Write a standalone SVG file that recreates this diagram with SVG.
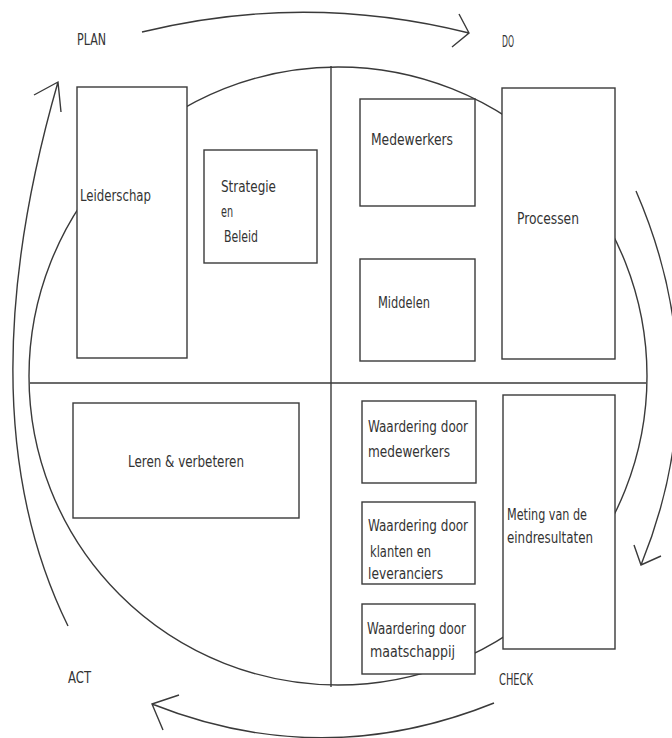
<svg xmlns="http://www.w3.org/2000/svg" width="672" height="738" viewBox="0 0 672 738">
<style>
.ln{fill:none;stroke:#3a3a3a;stroke-width:1.4}
.bx{fill:#fff;stroke:#3a3a3a;stroke-width:1.4}
text{font-family:"DejaVu Sans Condensed","Liberation Sans Narrow","Liberation Sans",sans-serif;font-size:16px;fill:#333}
</style>
<rect width="672" height="738" fill="#fff"/>
<g id="frame">
<circle class="ln" cx="338" cy="376" r="309"/>
<line class="ln" x1="331" y1="66" x2="331" y2="687"/>
<line class="ln" x1="30" y1="383" x2="646" y2="383"/>
</g>
<g id="connectors">
<path class="ln" d="M142,32 Q305,-8 469,33 M459,14 L469,33 L452,47"/>
<path class="ln" d="M68,626 Q-37,412 58,82 M34,95 L58,82 L61,112"/>
<path class="ln" d="M636,191 Q717,378 641,565 M634,545 L641,565 L661,556"/>
<path class="ln" d="M494,703 Q323,772 152,704 M179,695 L152,704 L163,730"/>
</g>
<g id="labels">
<text x="77" y="45" textLength="29" lengthAdjust="spacingAndGlyphs">PLAN</text>
<text x="502" y="47" textLength="12" lengthAdjust="spacingAndGlyphs">DO</text>
<text x="68" y="683" textLength="23" lengthAdjust="spacingAndGlyphs">ACT</text>
<text x="499" y="685" textLength="34" lengthAdjust="spacingAndGlyphs">CHECK</text>
</g>
<g id="leiderschap">
<rect class="bx" x="77" y="87" width="110" height="271"/>
<text x="80" y="201" textLength="71" lengthAdjust="spacingAndGlyphs">Leiderschap</text>
</g>
<g id="strategie">
<rect class="bx" x="204" y="150" width="113" height="113"/>
<text x="221" y="192" textLength="55" lengthAdjust="spacingAndGlyphs">Strategie</text>
<text x="221" y="217" textLength="12" lengthAdjust="spacingAndGlyphs">en</text>
<text x="224" y="242" textLength="34" lengthAdjust="spacingAndGlyphs">Beleid</text>
</g>
<g id="medewerkers">
<rect class="bx" x="360" y="99" width="115" height="107"/>
<text x="371" y="145" textLength="82" lengthAdjust="spacingAndGlyphs">Medewerkers</text>
</g>
<g id="middelen">
<rect class="bx" x="360" y="259" width="115" height="102"/>
<text x="378" y="308" textLength="52" lengthAdjust="spacingAndGlyphs">Middelen</text>
</g>
<g id="processen">
<rect class="bx" x="502" y="88" width="113" height="271"/>
<text x="517" y="224" textLength="62" lengthAdjust="spacingAndGlyphs">Processen</text>
</g>
<g id="leren">
<rect class="bx" x="73" y="403" width="226" height="115"/>
<text x="128" y="467" textLength="116" lengthAdjust="spacingAndGlyphs">Leren &amp; verbeteren</text>
</g>
<g id="waardering-medewerkers">
<rect class="bx" x="362" y="401" width="114" height="82"/>
<text x="368" y="432" textLength="100" lengthAdjust="spacingAndGlyphs">Waardering door</text>
<text x="368" y="457" textLength="82" lengthAdjust="spacingAndGlyphs">medewerkers</text>
</g>
<g id="waardering-klanten">
<rect class="bx" x="362" y="502" width="113" height="82"/>
<text x="368" y="531" textLength="100" lengthAdjust="spacingAndGlyphs">Waardering door</text>
<text x="370" y="557" textLength="61" lengthAdjust="spacingAndGlyphs">klanten en</text>
<text x="368" y="579" textLength="75" lengthAdjust="spacingAndGlyphs">leveranciers</text>
</g>
<g id="meting">
<rect class="bx" x="503" y="395" width="112" height="254"/>
<text x="507" y="520" textLength="80" lengthAdjust="spacingAndGlyphs">Meting van de</text>
<text x="507" y="543" textLength="86" lengthAdjust="spacingAndGlyphs">eindresultaten</text>
</g>
<g id="waardering-maatschappij">
<rect class="bx" x="362" y="604" width="113" height="70"/>
<text x="367" y="634" textLength="99" lengthAdjust="spacingAndGlyphs">Waardering door</text>
<text x="370" y="657" textLength="85" lengthAdjust="spacingAndGlyphs">maatschappij</text>
</g>
</svg>
